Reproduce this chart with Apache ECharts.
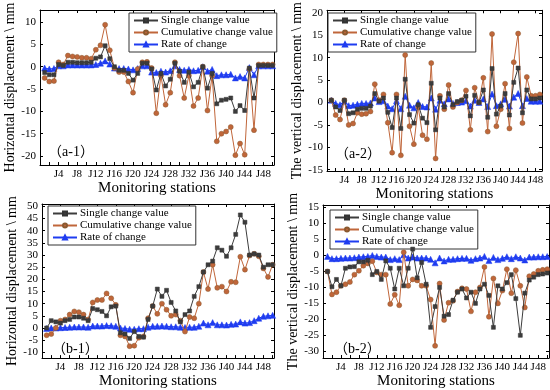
<!DOCTYPE html>
<html><head><meta charset="utf-8">
<script src="https://cdn.jsdelivr.net/npm/echarts@6/dist/echarts.min.js"></script>
<style>html,body{margin:0;padding:0;background:#fff}#c{width:550px;height:390px}</style>
</head><body><div id="c"></div>
<script>
const stations50 = [1,2,3,4,5,6,7,8,9,10,11,12,13,14,15,16,17,18,19,20,21,22,23,24,25,26,27,28,29,30,31,32,33,34,35,36,37,38,39,40,41,42,43,44,45,46,47,48,49,50];
const xTickLabels = [4,8,12,16,20,24,28,32,36,40,44,48];
const seriesNames = ['Single change value','Cumulative change value','Rate of change'];

const a1Single = [-1.3,-1.8,-1.8,0.5,0.3,1.0,1.0,0.9,0.9,0.9,1.0,1.9,2.2,4.7,1.8,0,-0.8,-0.8,-1.5,-3.0,-1.5,0.8,0.8,-0.5,-5.2,-1.5,-4.3,-2.8,0.8,-1.0,-3.5,-1.2,-4.5,-3.5,0,-4.8,-1.5,-8.3,-7.5,-7.3,-7.0,-10.0,-8.7,-9.8,-0.3,-7.0,0.3,0.3,0.3,0.3];
const a1Cum = [-2.5,-3.3,-3.2,1.0,0.5,2.5,2.3,2.2,2.0,2.0,1.8,3.8,4.8,9.4,3.7,-0.3,-1.2,-1.2,-3.3,-5.8,-0.5,1.0,1.1,-0.3,-10.4,-2.0,-8.5,-5.8,1.0,-2.0,-7.0,-2.0,-8.8,-7.0,0,-9.8,-2.0,-16.7,-15.0,-14.5,-13.5,-19.8,-17.2,-19.7,-0.5,-14.2,0.5,0.5,0.5,0.5];
const a1Rate = [-0.3,-0.5,-0.4,0.2,0.2,0.4,0.4,0.4,0.4,0.4,0.4,0.5,0.8,1.3,0.6,-0.3,-0.4,-0.4,-0.5,-0.7,-0.4,0.2,0.2,-1.2,-1.3,-1.0,-1.2,-0.9,0.2,-0.6,-0.8,-0.6,-0.9,-0.8,0,-1.0,-0.6,-2.0,-1.8,-1.8,-1.7,-2.5,-2.2,-2.5,-0.2,-1.8,0.2,0.2,0.2,0.2];

const a2Single = [0.5,-1.0,-1.8,0.5,-2.5,-2.3,-1.5,-1.3,-1.3,-0.8,2.0,0.3,1.0,-2.2,-5.6,1.0,-5.8,5.2,-2.7,-4.6,-0.5,-3.5,-4.5,4.3,-6.1,1.0,-1.0,2.0,-0.5,0.2,0.5,1.4,-3.0,1.6,0,2.8,-3.3,7.6,-2.6,-0.8,2.0,-2.8,4.5,7.7,-2.3,2.8,0.8,0.8,1.0];
const a2Cum = [0.5,-2.8,-3.8,0.5,-5.0,-4.7,-2.3,-2.6,-2.5,-2.0,4.1,0.5,1.8,-4.5,-11.2,1.8,-11.8,10.6,-5.3,-9.3,-1.0,-7.3,-8.2,8.8,-12.5,1.5,-1.5,3.9,-1.0,0,0.5,2.7,-6.1,3.3,0,5.5,-6.5,15.3,-5.3,-1.5,4.2,-5.8,9.0,15.4,-4.6,5.7,1.5,1.5,1.8];
const a2Rate = [0.5,-0.2,-0.5,0.3,-0.7,-0.6,-0.4,-0.2,-0.2,-0.1,1.0,0.2,0.4,-0.8,-1.4,0.4,-1.4,1.4,-0.6,-1.2,0,-0.9,-1.0,1.0,-1.5,0.5,-0.3,0.8,-0.2,0,0.1,0.4,-0.8,0.5,0,0.8,-0.9,1.9,-0.7,-0.3,0.7,-0.8,1.2,2.0,-0.7,0.9,0.3,0.3,0.3];

const b1Single = [0,3.0,2.5,2.0,3.0,3.5,4.5,4.5,4.0,3.0,8.0,7.5,6.8,5.0,8.7,9.0,-2.0,-2.5,-4.3,-1.5,-3.5,-3.8,3.5,9.0,16.0,13.0,15.5,10.5,7.0,2.5,5.5,7.0,13.0,17.0,23.0,26.0,27.5,33.0,32.0,29.5,33.0,38.5,46.5,43.5,30.0,30.5,30.0,25.0,26.0,26.0];
const b1Cum = [-3.0,-2.5,0,3.0,3.5,5.5,6.8,6.5,5.5,3.5,10.5,11.5,11.5,14.2,12.2,9.5,-3.0,-3.5,-7.5,-7.3,-4.0,-3.5,4.0,9.0,5.8,10.0,7.5,5.0,5.5,3.0,-1.5,4.5,4.0,10.0,23.0,16.0,26.0,16.5,17.0,15.0,19.0,18.8,29.3,24.0,29.8,30.5,29.5,24.5,21.0,26.0];
const b1Rate = [-0.2,0,0,0.1,0.2,0.3,0.4,0.4,0.4,0.3,0.8,0.8,0.8,1.0,0.9,0.7,0,-0.2,-0.5,-0.5,-0.3,-0.3,0.3,0.7,0.7,0.8,0.7,0.5,0.5,0.3,0.2,0.3,0.3,0.7,2.0,1.3,2.2,1.3,1.3,1.2,1.5,1.6,2.5,2.0,2.2,3.0,4.0,4.8,5.0,5.2];

const b2Single = [-5.0,-9.8,-7.5,-9.5,-4.0,-3.6,-3.5,-2.0,-2.0,-1.5,-6.0,-5.0,-7.5,-1.7,-4.0,-10.5,-4.0,-9.5,-4.0,2.0,-7.0,-2.2,-9.0,-22.5,-16.0,-10.0,-19.0,-18.5,-14.0,-11.5,-10.5,-13.3,-11.5,-15.0,-10.5,-9.0,-12.5,-22.5,-9.5,-10.5,-8.5,-6.0,-13.5,-25.0,-11.8,-7.7,-6.8,-6.0,-5.8,-5.5];
const b2Cum = [-5.0,-12.2,-11.5,-9.5,-9.0,-8.3,-6.0,-4.8,-3.2,-2.5,-1.8,-5.3,-6.0,-6.0,-15.2,-12.3,-15.6,1.0,-9.5,-7.5,-7.8,-9.5,-9.5,-13.8,-28.3,-8.8,-20.2,-14.8,-14.2,-11.3,-10.3,-10.5,-17.5,-11.5,-10.0,-3.6,-19.2,-7.2,-15.0,-11.0,-4.3,-11.8,-4.6,-9.5,-16.3,-6.5,-5.8,-4.8,-4.5,-4.3];
const b2Rate = [-0.3,-1.0,-1.0,-0.9,-0.8,-0.8,-0.7,-0.5,-0.4,-0.3,0,-0.3,-0.5,-0.5,-1.3,-1.0,-1.3,0.2,-0.8,-0.5,-0.8,-0.8,-0.8,-1.2,-2.3,-0.8,-1.7,-1.2,-1.2,-1.0,-0.9,-0.9,-1.5,-1.0,-0.8,-0.3,-1.6,-0.6,-1.3,-0.9,-0.4,-1.0,-0.4,-0.8,-1.4,-0.5,-0.5,-0.4,-0.4,-0.3];

const a1YTicks = [-20,-15,-10,-5,0,5,10];
const a2YTicks = [-15,-10,-5,0,5,10,15,20];
const b1YTicks = [-10,-5,0,5,10,15,20,25,30,35,40,45,50];
const b2YTicks = [-30,-25,-20,-15,-10,-5,0,5,10,15];

const FONT = 'Liberation Serif';
const panels = [
  {grid:{left:40,top:10,width:234,height:155}, ymin:-22, ymax:12.7, xmax:50.3, yticks:a1YTicks,
   data:[a1Single,a1Cum,a1Rate], yname:'Horizontal displacement \\ mm', ygap:21, xgap:14,
   legend:{left:129,top:13}, label:'（a-1）', lpos:[48,145]},
  {grid:{left:327,top:7,width:215,height:164}, ymin:-15.3, ymax:20.6, xmax:49.5, yticks:a2YTicks,
   data:[a2Single,a2Cum,a2Rate], yname:'The vertical displacement \\ mm', ygap:20, xgap:14,
   legend:{left:328,top:13}, label:'（a-2）', lpos:[335,147]},
  {grid:{left:42,top:204,width:232,height:155}, ymin:-12.4, ymax:51, xmax:50.3, yticks:b1YTicks,
   data:[b1Single,b1Cum,b1Rate], yname:'Horizontal displacement \\ mm', ygap:21, xgap:11,
   legend:{left:48,top:206}, label:'（b-1）', lpos:[52,342]},
  {grid:{left:323,top:205,width:226,height:153}, ymin:-32.1, ymax:15.8, xmax:50.4, yticks:b2YTicks,
   data:[b2Single,b2Cum,b2Rate], yname:'The vertical displacement \\ mm', ygap:21, xgap:12,
   legend:{left:330,top:210}, label:'（b-2）', lpos:[334,342]}
];

const styles = [
  {color:'#3c3c3c', symbol:'rect', size:4, border:'#333'},
  {color:'#c0663a', symbol:'circle', size:5, border:'#8a5a30'},
  {color:'#1f3cf0', symbol:'triangle', size:6, border:'#1f3cf0'}
];

const grid=[], xAxis=[], yAxis=[], series=[], legend=[], graphic=[];
panels.forEach((p,i)=>{
  grid.push(Object.assign({show:false}, p.grid));
  const baseX = {gridIndex:i, type:'value', min:0, max:p.xmax,
    axisLine:{show:true,onZero:false,lineStyle:{color:'#000',width:1}},
    splitLine:{show:false}};
  xAxis.push(Object.assign({}, baseX, {position:'bottom',
    name:'Monitoring stations', nameLocation:'middle', nameGap:p.xgap,
    nameTextStyle:{fontFamily:FONT,fontSize:15,color:'#000'},
    axisTick:{inside:true,length:3,customValues:[2,4,6,8,10,12,14,16,18,20,22,24,26,28,30,32,34,36,38,40,42,44,46,48,50].filter(v=>v<=p.xmax),lineStyle:{color:'#000'}},
    axisLabel:{customValues:xTickLabels, formatter:v=>'J'+v, fontFamily:FONT, fontSize:11, color:'#000', margin:4}}));
  xAxis.push(Object.assign({}, baseX, {position:'top',
    axisTick:{inside:true,length:3,customValues:xTickLabels,lineStyle:{color:'#000'}},
    axisLabel:{show:false}}));
  const baseY = {gridIndex:i, type:'value', min:p.ymin, max:p.ymax,
    axisLine:{show:true,onZero:false,lineStyle:{color:'#000',width:1}},
    splitLine:{show:false}};
  yAxis.push(Object.assign({}, baseY, {position:'left',
    name:p.yname, nameLocation:'middle', nameGap:p.ygap,
    nameTextStyle:{fontFamily:FONT,fontSize:14,color:'#000'},
    axisTick:{inside:true,length:3,customValues:p.yticks,lineStyle:{color:'#000'}},
    axisLabel:{customValues:p.yticks, fontFamily:FONT, fontSize:11, color:'#000', margin:4}}));
  yAxis.push(Object.assign({}, baseY, {position:'right',
    axisTick:{inside:true,length:3,customValues:p.yticks,lineStyle:{color:'#000'}},
    axisLabel:{show:false}}));
  p.data.forEach((arr,k)=>{
    const st = styles[k];
    series.push({type:'line', name:seriesNames[k], xAxisIndex:2*i, yAxisIndex:2*i,
      data:arr.map((v,j)=>[stations50[j],v]), symbol:st.symbol, symbolSize:st.size,
      showSymbol:true, animation:false, z:3-k+2,
      lineStyle:{color:st.color,width:1}, itemStyle:{color:st.color,borderColor:st.border,borderWidth:0.5}});
  });
  legend.push({orient:'vertical', left:p.legend.left, top:p.legend.top, data:seriesNames,
    itemWidth:24, itemHeight:5, itemGap:1, padding:[2,4,2,4],
    borderColor:'#333', borderWidth:1, backgroundColor:'#fff', selectedMode:false,
    textStyle:{fontFamily:FONT,fontSize:11,color:'#000',padding:[0,0,0,-2]}});
  graphic.push({type:'text', left:p.lpos[0], top:p.lpos[1],
    style:{text:p.label, font:'14px "Liberation Serif", "Noto Sans CJK SC"', fill:'#000'}});
});

const chart = echarts.init(document.getElementById('c'));
chart.setOption({animation:false, textStyle:{fontFamily:FONT}, grid, xAxis, yAxis, series, legend, graphic});
</script></body></html>
